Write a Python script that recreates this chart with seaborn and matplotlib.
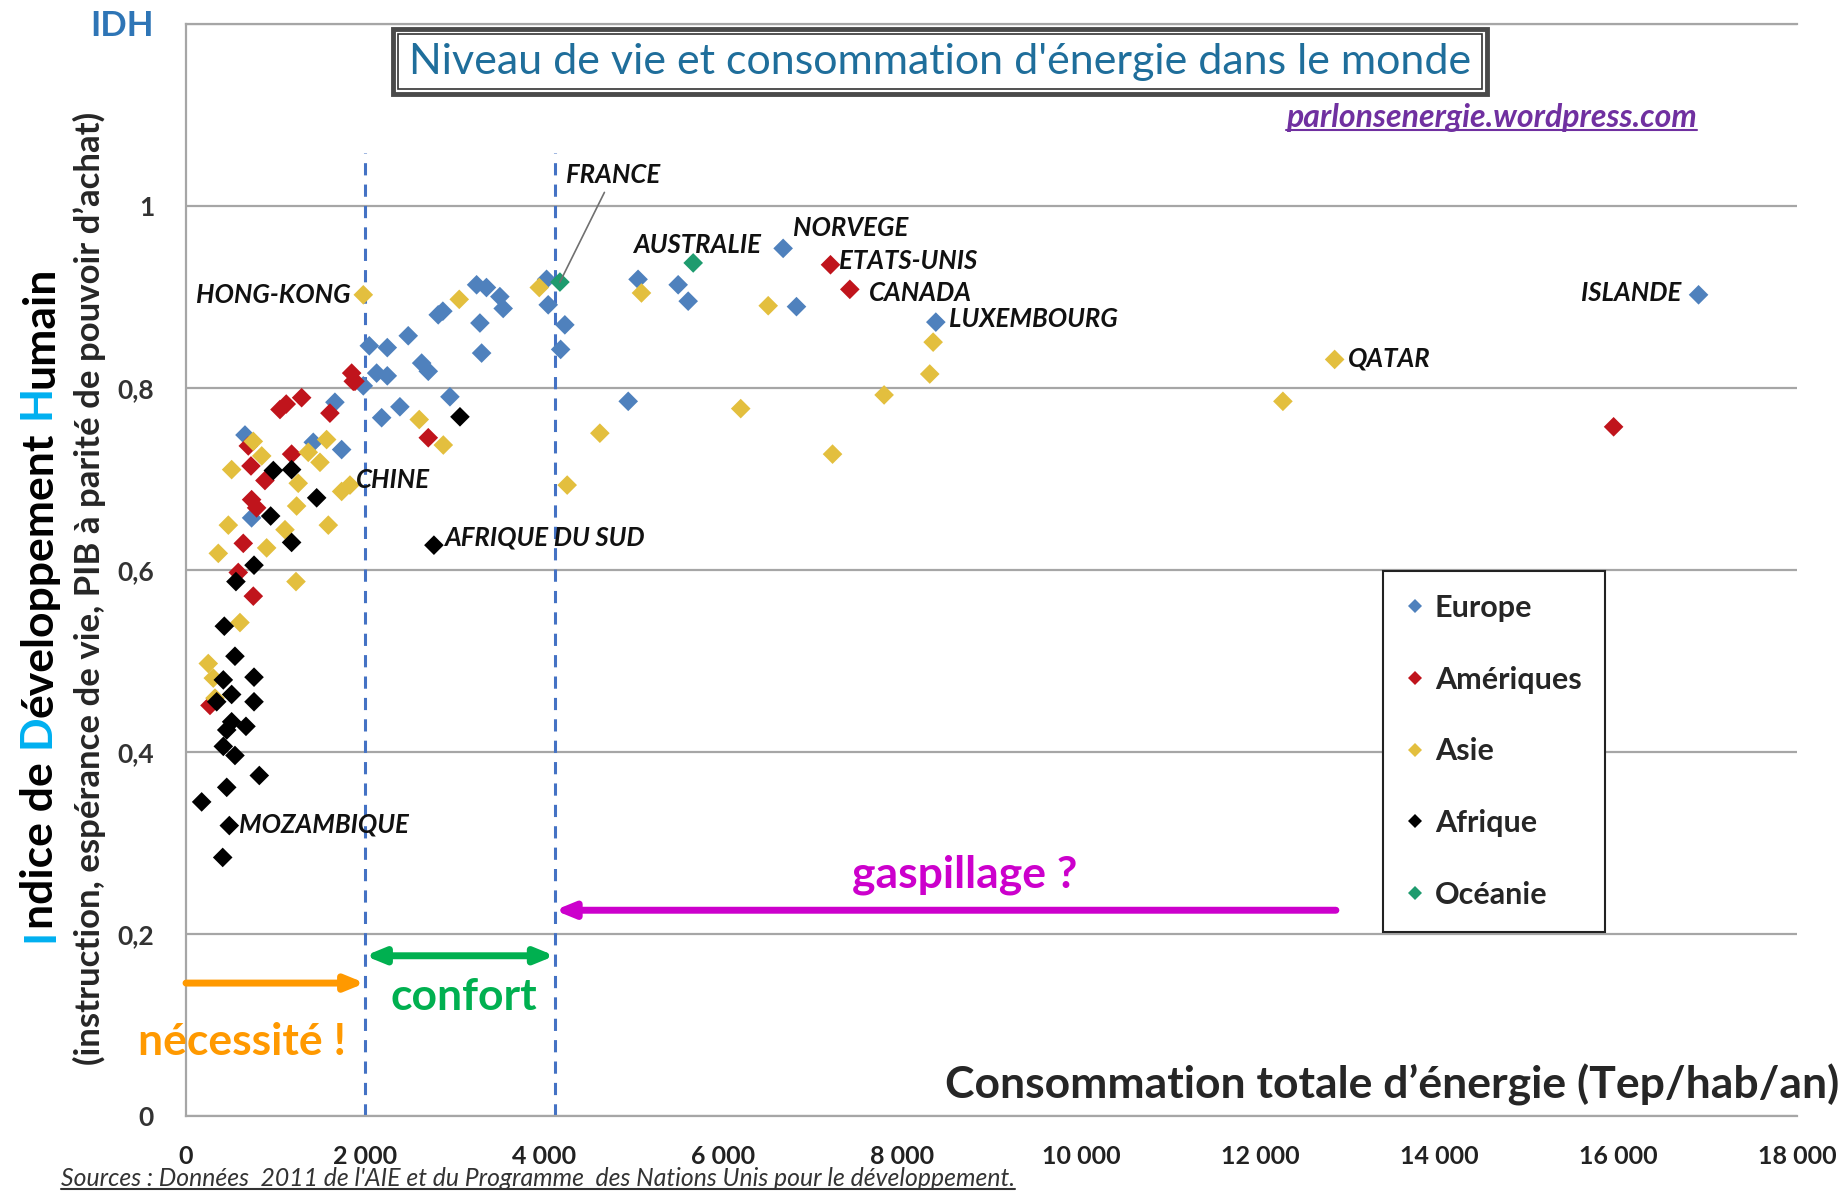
import matplotlib
matplotlib.use('Agg')
import matplotlib.pyplot as plt
import matplotlib.patches as mpatches
import matplotlib.lines as mlines
import pandas as pd
import seaborn as sns

# Points: energy consumption (Tep/hab/an) and IDH
europe_x = [1664, 2949, 2390, 2186, 659, 1422, 1739, 733, 1981, 2048, 2249, 2483,
            2818, 2870, 3284, 3303, 2633, 2707, 2130, 2249, 3247, 3357, 3507, 3544,
            4029, 4047, 4233, 4186, 5051, 5499, 5611, 4941, 6672, 6821, 8378, 16900]
europe_y = [0.784, 0.790, 0.779, 0.767, 0.748, 0.740, 0.732, 0.657, 0.802, 0.846, 0.844, 0.857,
            0.880, 0.884, 0.871, 0.838, 0.827, 0.818, 0.816, 0.813, 0.913, 0.910, 0.900, 0.887,
            0.919, 0.891, 0.869, 0.842, 0.919, 0.913, 0.895, 0.785, 0.953, 0.889, 0.872, 0.902]

ameriques_x = [1869, 1851, 1888, 1050, 1120, 1292, 1608, 2707, 726, 1180, 882, 733,
               789, 640, 584, 752, 268, 696, 7201, 7417, 15951]
ameriques_y = [0.807, 0.816, 0.807, 0.776, 0.782, 0.789, 0.772, 0.745, 0.714, 0.727, 0.698, 0.677,
               0.668, 0.629, 0.597, 0.571, 0.451, 0.736, 0.935, 0.908, 0.757]

asie_x = [1981, 3053, 3947, 5089, 6505, 8348, 8310, 7800, 6198, 7224, 4624, 4259,
          12834, 12256, 2606, 2875, 752, 846, 510, 1571, 1366, 1497, 1254, 1739,
          1832, 1236, 473, 1106, 1590, 901, 361, 1229, 603, 249, 305, 324]
asie_y = [0.902, 0.897, 0.910, 0.904, 0.890, 0.850, 0.815, 0.792, 0.777, 0.727, 0.750, 0.693,
          0.831, 0.785, 0.765, 0.737, 0.741, 0.725, 0.710, 0.743, 0.729, 0.718, 0.695, 0.686,
          0.693, 0.670, 0.649, 0.644, 0.649, 0.624, 0.618, 0.587, 0.542, 0.497, 0.481, 0.459]

afrique_x = [3061, 976, 1180, 1460, 946, 1180, 760, 558, 2770, 428, 547, 417, 760,
             510, 760, 343, 510, 455, 670, 417, 547, 819, 455, 175, 484, 410]
afrique_y = [0.768, 0.709, 0.710, 0.679, 0.659, 0.630, 0.605, 0.587, 0.627, 0.538, 0.505, 0.479, 0.482,
             0.463, 0.455, 0.455, 0.433, 0.424, 0.428, 0.406, 0.396, 0.374, 0.361, 0.345, 0.319, 0.284]

oceanie_x = [4178, 5667]
oceanie_y = [0.916, 0.937]

regions = ['Europe', 'Amériques', 'Asie', 'Afrique', 'Océanie']
region_colors = ['#4F81BD', '#C0141C', '#E3BF3E', '#000000', '#1E9B6E']

xticks = list(range(0, 18001, 2000))
xtick_labels = [f"{v:,}".replace(',', ' ') for v in xticks]
yticks = [0, 0.2, 0.4, 0.6, 0.8, 1.0, 1.2]
ytick_labels = ['0', '0,2', '0,4', '0,6', '0,8', '1', 'IDH']

df = pd.concat([
    pd.DataFrame({'conso': europe_x, 'idh': europe_y, 'region': 'Europe'}),
    pd.DataFrame({'conso': ameriques_x, 'idh': ameriques_y, 'region': 'Amériques'}),
    pd.DataFrame({'conso': asie_x, 'idh': asie_y, 'region': 'Asie'}),
    pd.DataFrame({'conso': afrique_x, 'idh': afrique_y, 'region': 'Afrique'}),
    pd.DataFrame({'conso': oceanie_x, 'idh': oceanie_y, 'region': 'Océanie'}),
], ignore_index=True)

sns.set_style('white')
plt.rcParams['font.family'] = ['Lato', 'DejaVu Sans']

W, H = 1846, 1195
fig = plt.figure(figsize=(W / 100, H / 100), dpi=100)
ax = fig.add_axes([186 / W, 1 - 1116 / H, (1797 - 186) / W, (1116 - 23.5) / H])

sns.scatterplot(data=df, x='conso', y='idh', hue='region', hue_order=regions,
                palette=dict(zip(regions, region_colors)), marker='D', s=100,
                linewidth=0, ax=ax, zorder=3)

ax.set_xlim(0, 18000)
ax.set_ylim(0, 1.2)
ax.set_xlabel('')
ax.set_ylabel('')
ax.set_xticks(xticks)
ax.set_xticklabels(xtick_labels, fontweight='bold', fontsize=18, color='#222222')
ax.set_yticks(yticks)
ax.set_yticklabels(ytick_labels, fontweight='bold', fontsize=19, color='#333333')
idh = ax.get_yticklabels()[-1]
idh.set_color('#2E75B6')
idh.set_fontsize(25)
ax.tick_params(axis='both', direction='out', length=9, width=1.3, color='#A6A6A6')
ax.tick_params(axis='y', pad=14)
ax.tick_params(axis='x', pad=12)
ax.yaxis.grid(True, color='#A6A6A6', lw=1.6, zorder=0)
ax.xaxis.grid(False)
for side in ['left', 'bottom', 'top']:
    ax.spines[side].set_color('#A6A6A6')
    ax.spines[side].set_linewidth(1.6)
ax.spines['right'].set_visible(False)

# zones
for xv in [2000, 4120]:
    ax.plot([xv, xv], [0, 1.058], ls=(0, (4, 3)), color='#4472C4', lw=2.2, zorder=2, clip_on=False)

ax.annotate('', xy=(2000, 0.146), xytext=(0, 0.146),
            arrowprops=dict(arrowstyle='-|>,head_length=1.1,head_width=0.45', color='#FF9900',
                            lw=5, shrinkA=0, shrinkB=0))
ax.annotate('', xy=(4120, 0.176), xytext=(2000, 0.176),
            arrowprops=dict(arrowstyle='<|-|>,head_length=1.1,head_width=0.45', color='#00B050',
                            lw=5, shrinkA=0, shrinkB=0))
ax.annotate('', xy=(4120, 0.226), xytext=(12848, 0.226),
            arrowprops=dict(arrowstyle='-|>,head_length=1.1,head_width=0.45', color='#CC00CC',
                            lw=5, shrinkA=0, shrinkB=0))
ax.text(631, 0.0815, 'nécessité !', color='#FF9900', fontsize=32, fontweight='bold',
        ha='center', va='center', clip_on=False)
ax.text(3103, 0.131, 'confort', color='#00B050', fontsize=32, fontweight='bold',
        ha='center', va='center')
ax.text(8705, 0.265, 'gaspillage ?', color='#CC00CC', fontsize=32, fontweight='bold',
        ha='center', va='center')

# country labels
lab = dict(fontsize=18.5, fontweight='bold', fontstyle='italic', color='#111111', va='center', zorder=4)
for txt, tx, ty, ha in [('HONG-KONG', 1841, 0.902, 'right'), ('CHINE', 1894, 0.699, 'left'),
                        ('AFRIQUE DU SUD', 2880, 0.635, 'left'), ('MOZAMBIQUE', 592, 0.320, 'left'),
                        ('AUSTRALIE', 4997, 0.957, 'left'), ('NORVEGE', 6785, 0.975, 'left'),
                        ('ETATS-UNIS', 7298, 0.939, 'left'), ('CANADA', 7627, 0.904, 'left'),
                        ('LUXEMBOURG', 8521, 0.875, 'left'), ('QATAR', 12979, 0.832, 'left'),
                        ('ISLANDE', 16707, 0.904, 'right')]:
    ax.text(tx, ty, txt, ha=ha, **lab)
ax.annotate('FRANCE', xy=(4178, 0.916), xytext=(4247, 1.034), ha='left', va='center',
            fontsize=18.5, fontweight='bold', fontstyle='italic', color='#111111',
            arrowprops=dict(arrowstyle='-', color='#707070', lw=1.2, shrinkA=2, shrinkB=0))

# legend
handles, labels = ax.get_legend_handles_labels()
leg = ax.legend(handles, labels, loc='upper left', bbox_to_anchor=(0.743, 0.4988),
                prop=dict(family=['Lato', 'DejaVu Sans'], weight='bold', size=22),
                frameon=True, fancybox=False, edgecolor='#222222', framealpha=1,
                borderpad=0.75, labelspacing=1.43, handlelength=0.6, handletextpad=0.35,
                markerscale=0.7, borderaxespad=0)
leg.get_frame().set_linewidth(1.5)

# axis titles
fig.text(1839 / W, 1 - 1085 / H, 'Consommation totale d\u2019énergie (Tep/hab/an)',
         ha='right', va='center', fontsize=32, fontweight='bold')

fig.canvas.draw()
r = fig.canvas.get_renderer()
ylab_x, ylab_y = 53 / W, 1 - 942 / H
for piece, col in [('I', '#00B0F0'), ('ndice de', 'black'), (' D', '#00B0F0'),
                   ('éveloppement', 'black'), (' H', '#00B0F0'), ('umain', 'black')]:
    t = fig.text(ylab_x, ylab_y, piece, color=col, rotation=90, rotation_mode='anchor',
                 ha='left', va='baseline', fontsize=32, fontweight='bold')
    bb = t.get_window_extent(renderer=r)
    ylab_y = bb.y1 / H
fig.text(100 / W, 1 - 1065 / H, '(instruction, espérance de vie, PIB à parité de pouvoir d\u2019achat)',
         rotation=90, rotation_mode='anchor', ha='left', va='baseline', fontsize=25,
         fontweight='bold')

# title box
fig.patches.append(mpatches.Rectangle((393 / W, 1 - 94 / H), (1487 - 393) / W, 65 / H,
                                      transform=fig.transFigure, fill=False, ec='#4A4A4A', lw=3.5))
fig.patches.append(mpatches.Rectangle((398 / W, 1 - 89 / H), (1477 - 393) / W, 55 / H,
                                      transform=fig.transFigure, fill=False, ec='#333333', lw=1.2))
fig.text(940 / W, 1 - 62 / H, "Niveau de vie et consommation d'énergie dans le monde",
         ha='center', va='center', fontsize=31, color='#1F6E9B')


def underlined(x, y, s, **kw):
    t = fig.text(x, y, s, va='baseline', **kw)
    bb = t.get_window_extent(renderer=r)
    fig.lines.append(mlines.Line2D([bb.x0 / W, bb.x1 / W], [y - 3 / H, y - 3 / H],
                                   transform=fig.transFigure, color=kw.get('color', 'black'), lw=1.5))


underlined(1697 / W, 1 - 127 / H, 'parlonsenergie.wordpress.com', ha='right', fontsize=23,
           fontweight='bold', fontstyle='italic', color='#7030A0')
underlined(61 / W, 1 - 1186 / H, "Sources : Données  2011 de l'AIE et du Programme  des Nations Unis pour le développement.",
           ha='left', fontsize=17.8, fontstyle='italic', color='#333333')

fig.savefig('out.png', dpi=100)
